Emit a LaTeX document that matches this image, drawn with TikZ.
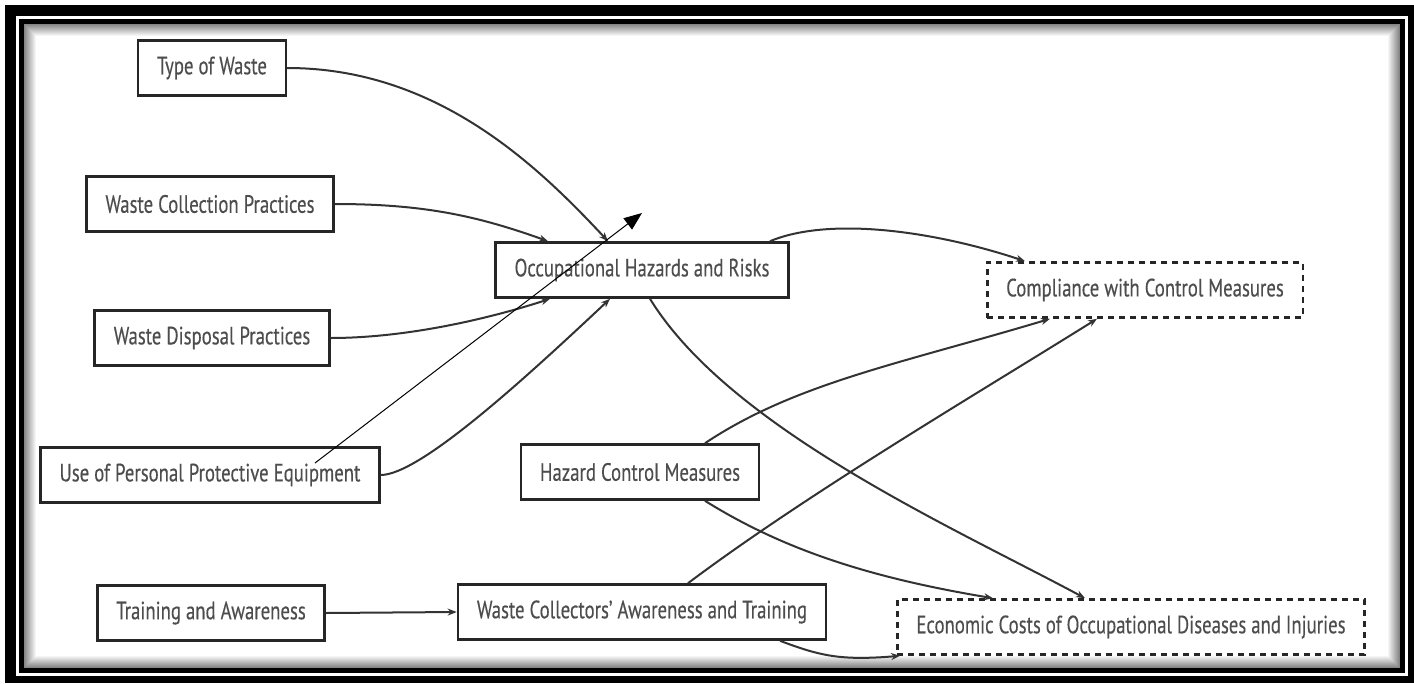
\documentclass[tikz,border=0pt]{standalone}
\usepackage{fontspec}
\setmainfont[FakeStretch=0.75, FakeBold=0.3]{PT Sans}
\usetikzlibrary{arrows.meta, calc}
\definecolor{boxline}{HTML}{262626}
\definecolor{linegrey}{HTML}{333333}
\definecolor{txtgrey}{HTML}{4D4D4D}
\tikzset{
    factor/.style={draw=boxline, line width=2.6pt, fill=white, text=txtgrey,
        font=\fontsize{25}{29}\selectfont, minimum height=55pt, inner xsep=19pt},
    outcome/.style={factor, dash pattern=on 6pt off 5pt},
    link/.style={draw=linegrey, line width=2pt, -{Stealth[length=9pt,width=7pt]}},
    pointer/.style={draw=black, line width=1pt, -{Triangle[length=18pt,width=14pt]}},
}

\begin{document}
\begin{tikzpicture}[x=1pt, y=-1pt]
    \useasboundingbox (0,0) rectangle (1414,683);

    % frame
    \fill[black] (5,5) rectangle (1414,683);
    \fill[white] (16,16) rectangle (1408,676);
    \fill[black] (19,19) rectangle (1405,673);
    \fill[white] (24,24) rectangle (1400,668);
    \foreach \i in {0,...,11}{
        \pgfmathsetmacro\shade{48-4*\i}
        \draw[black!\shade, line width=1.2pt] (24.5+\i,24.5+\i) rectangle (1399.5-\i,667.5-\i);
    }

    % factors
    \node[factor] (tow) at (212,68) {Type of Waste};
    \node[factor] (wcp) at (210,204) {Waste Collection Practices};
    \node[factor] (wdp) at (212,338) {Waste Disposal Practices};
    \node[factor] (ppe) at (210,475) {Use of Personal Protective Equipment};
    \node[factor] (taa) at (211,613) {Training and Awareness};

    \node[factor] (ohr) at (642,270) {Occupational Hazards and Risks};
    \node[factor] (hcm) at (640,472) {Hazard Control Measures};
    \node[factor] (wcat) at (642,612) {Waste Collectors' Awareness and Training};

    % outcomes
    \node[outcome] (ccm) at (1145,290) {Compliance with Control Measures};
    \node[outcome] (ecod) at (1131,627) {Economic Costs of Occupational Diseases and Injuries};

    % links
    \draw[link] (tow.east) .. controls +(150,0) and +(-70,-75) .. ([xshift=-34pt]ohr.north);
    \draw[link] (wcp.east) .. controls +(90,0) and +(-70,-25) .. ([xshift=-94pt]ohr.north);
    \draw[link] (wdp.east) .. controls +(80,0) and +(-55,18) .. ([xshift=-92pt]ohr.south);
    \draw[link] (ppe.east) .. controls +(40,0) and +(-80,75) .. ([xshift=-32pt]ohr.south);

    \draw[link] ([xshift=128pt]ohr.north) .. controls +(60,-25) and +(-90,-30) .. ([xshift=-120pt]ccm.north);
    \draw[link] ([xshift=8pt]ohr.south) .. controls +(80,130) and +(-130,-70) .. ([xshift=-46pt]ecod.north);

    \draw[link] ([xshift=65pt]hcm.north) .. controls +(90,-60) and +(-150,45) .. ([xshift=-95pt]ccm.south);
    \draw[link] ([xshift=65pt]hcm.south) .. controls +(80,50) and +(-120,-20) .. ([xshift=-138pt]ecod.north);

    \draw[link] (taa.east) -- (wcat.west);
    \draw[link] ([xshift=46pt]wcat.north) .. controls +(120,-90) and +(-120,75) .. ([xshift=-48pt]ccm.south);
    \draw[link] ([xshift=138pt]wcat.south) .. controls +(40,15) and +(-60,5) .. ([xshift=4pt]ecod.south west);

    % pointer
    \coordinate (pstart) at (315,463);
    \coordinate (pend) at (642,213);
    \draw[pointer] (pstart) -- (pend);
\end{tikzpicture}
\end{document}
